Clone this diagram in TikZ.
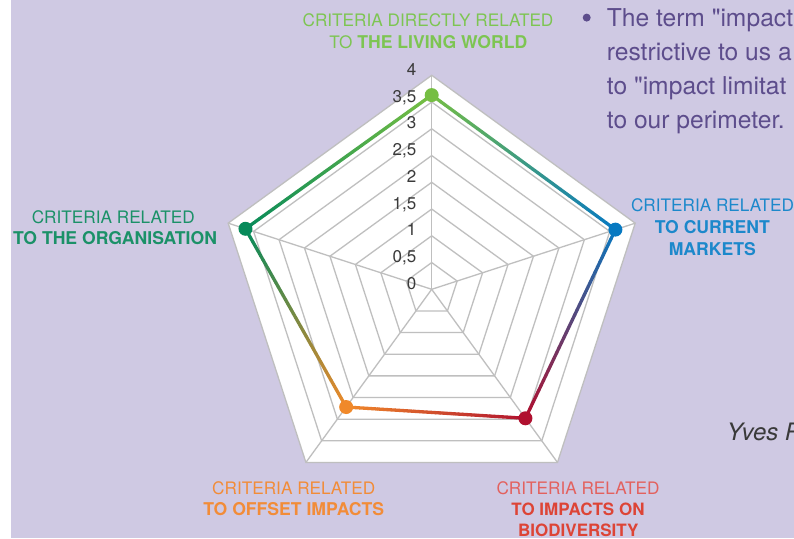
\documentclass[tikz,border=0pt]{standalone}
\usepackage{fontspec}
\setmainfont{TeX Gyre Heros}[Ligatures=TeXOff]
\usetikzlibrary{calc}
\definecolor{bg}{HTML}{CFC9E3}
\definecolor{gridc}{HTML}{BFBFBF}
\definecolor{cLiving}{HTML}{76BE43}
\definecolor{cMarket}{HTML}{0779C1}
\definecolor{cBio}{HTML}{B0102F}
\definecolor{cOffset}{HTML}{F0892A}
\definecolor{cOrg}{HTML}{078A5A}
\definecolor{tLiving}{HTML}{7DC552}
\definecolor{tMarket}{HTML}{1C88CB}
\definecolor{tOrg}{HTML}{1B9168}
\definecolor{tOffset}{HTML}{F28C38}
\definecolor{tBioA}{HTML}{E3615E}
\definecolor{tBioB}{HTML}{DD4436}
\definecolor{para}{HTML}{5D4D8C}
\definecolor{scaletxt}{HTML}{3A3A3A}
\newcommand\gradseg[4]{\foreach \i in {0,...,39}{%
  \pgfmathsetmacro\ta{\i/40}\pgfmathsetmacro\tb{(\i+1)/40}%
  \pgfmathtruncatemacro\pc{100-100*(\i+0.5)/40}%
  \draw[dataline, draw=#2!\pc!#4] ($(#1)!\ta!(#3)$) -- ($(#1)!\tb!(#3)$);}}
\begin{document}
\begin{tikzpicture}[x=1pt,y=-1pt,
  gridline/.style={draw=gridc, line width=1.3pt, line join=miter},
  dataline/.style={line width=3.3pt, line cap=round},
  dot/.style={circle, inner sep=0pt, minimum size=14pt},
  scalelbl/.style={anchor=base east, font=\fontsize{17}{17}\selectfont, text=scaletxt, inner sep=0pt},
  cat/.style={anchor=base, font=\fontsize{17.2}{17}\selectfont, inner sep=0pt},
  catb/.style={anchor=base, font=\fontsize{17.6}{17}\selectfont\bfseries, inner sep=0pt},
  parat/.style={anchor=base west, font=\fontsize{24.6}{24}\selectfont, text=para, inner sep=0pt}]
\useasboundingbox (0,0) rectangle (794,538);
\clip (0,0) rectangle (794,538);
\fill[bg] (11,0) rectangle (794,538);

\coordinate (O) at (431.7,289.3);
\foreach \n/\ang in {1/-90,2/-18,3/54,4/126,5/198}{
  \coordinate (V\n) at ($(O)+(\ang:214)$);
}
\fill[white] (V1) -- (V2) -- (V3) -- (V4) -- (V5) -- cycle;
\foreach \k in {1,...,8}{
  \draw[gridline] ($(O)+(-90:26.75*\k)$) -- ($(O)+(-18:26.75*\k)$) -- ($(O)+(54:26.75*\k)$) -- ($(O)+(126:26.75*\k)$) -- ($(O)+(198:26.75*\k)$) -- cycle;
}
\foreach \n in {1,...,5}{ \draw[gridline] (O) -- (V\n); }

% scale labels
\foreach \k/\t in {0/0,1/{0,5},2/1,3/{1,5},4/2,5/{2,5},6/3,7/{3,5},8/4}{
  \node[scalelbl] (s\k) at (416.5,289.3-26.75*\k) {\t};
}

% data points
\coordinate (p1) at ($(O)+(-90:3.63*53.5)$);
\coordinate (p2) at ($(O)+(-18:3.61*53.5)$);
\coordinate (p3) at ($(O)+(54:2.98*53.5)$);
\coordinate (p4) at ($(O)+(126:2.72*53.5)$);
\coordinate (p5) at ($(O)+(198:3.66*53.5)$);
\gradseg{p1}{cLiving}{p2}{cMarket}
\gradseg{p2}{cMarket}{p3}{cBio}
\gradseg{p3}{cBio}{p4}{cOffset}
\gradseg{p4}{cOffset}{p5}{cOrg}
\gradseg{p5}{cOrg}{p1}{cLiving}
\node[dot, fill=cLiving] (d1) at (p1) {};
\node[dot, fill=cMarket] (d2) at (p2) {};
\node[dot, fill=cBio] (d3) at (p3) {};
\node[dot, fill=cOffset] (d4) at (p4) {};
\node[dot, fill=cOrg] (d5) at (p5) {};

% category labels
\node[cat, text=tLiving] (tl1) at (428,26) {CRITERIA DIRECTLY RELATED};
\node[cat, text=tLiving] (tl2) at (428.3,48.3) {TO {\fontsize{17.6}{17}\selectfont\bfseries THE LIVING WORLD}};
\node[cat, text=tMarket] (tm1) at (712.5,211.5) {CRITERIA RELATED};
\node[catb, text=tMarket] (tm2) at (712.3,233.8) {TO CURRENT};
\node[catb, text=tMarket] (tm3) at (712.3,255) {MARKETS};
\node[cat, text=tOrg] (to1) at (113.3,223.3) {CRITERIA RELATED};
\node[catb, text=tOrg] (to2) at (115,244.5) {TO THE ORGANISATION};
\node[cat, text=tOffset] (tf1) at (293.7,494) {CRITERIA RELATED};
\node[catb, text=tOffset] (tf2) at (293.7,515) {TO OFFSET IMPACTS};
\node[cat, text=tBioA] (tb1) at (578,494) {CRITERIA RELATED};
\node[catb, text=tBioB, font=\fontsize{17}{17}\selectfont\bfseries] (tb2) at (578,515) {TO IMPACTS ON};
\node[catb, text=tBioB, font=\fontsize{17}{17}\selectfont\bfseries] (tb3) at (578.3,536.7) {BIODIVERSITY};

% paragraph
\node[circle, fill=para, minimum size=8pt, inner sep=0pt] (bul) at (586.7,17.6) {};
\node[parat] (l1) at (606.7,26) {The term "impact};
\node[parat] (l2) at (606.7,60.2) {restrictive to us a};
\node[parat] (l3) at (606.7,94.3) {to "impact limitat};
\node[parat] (l4) at (606.7,128.3) {to our perimeter.};
\node[anchor=base west, inner sep=0pt, font=\fontsize{24}{24}\selectfont\itshape, text=scaletxt] (yr) at (726.7,440.7) {Yves R};
\end{tikzpicture}
\end{document}
